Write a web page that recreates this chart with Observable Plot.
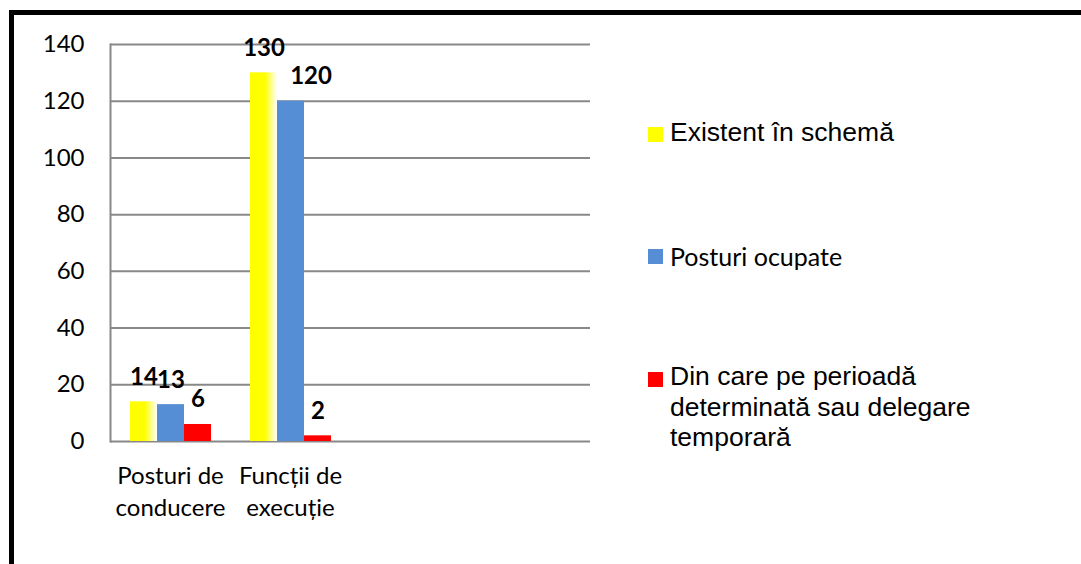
<!DOCTYPE html>
<html>
<head>
<meta charset="utf-8">
<script src="https://cdn.jsdelivr.net/npm/d3@7"></script>
<script src="https://cdn.jsdelivr.net/npm/@observablehq/plot@0.6"></script>
<style>
  html, body { margin: 0; padding: 0; background: #fff; overflow: hidden; width: 1081px; height: 564px; }
  #frame { position: absolute; left: 9px; top: 10px; width: 2000px; height: 2000px; border-left: 5px solid #000; border-top: 5px solid #000; box-sizing: border-box; }
  #chart { position: absolute; left: 0; top: 0; }
  .sw { position: absolute; width: 15px; height: 15px; }
  .lt { position: absolute; white-space: nowrap; color: #000; }
</style>
</head>
<body>
<div id="frame"></div>
<div id="chart"></div>
<div id="legend"></div>
<script>
const categories = ["Posturi de\nconducere", "Funcții de\nexecuție"];
const emptySlots = ["", " "];
const series = ["Existent în schemă", "Posturi ocupate", "Din care pe perioadă determinată sau delegare temporară"];
const existent = [14, 130];
const ocupate = [13, 120];
const determinata = [6, 2];
const yTicks = [0, 20, 40, 60, 80, 100, 120, 140];
const colors = ["url(#ygrad)", "#558ED5", "#FF0000"];
const swatchColors = ["#FFFF00", "#558ED5", "#FF0000"];

const seriesValues = [existent, ocupate, determinata];
const rows = categories.flatMap((c, i) => series.map((s, j) => ({cat: c, series: s, value: seriesValues[j][i]})));
const slots = [...categories, ...emptySlots];
const gridRows = slots.flatMap(c => yTicks.map(t => ({cat: c, t})));

const chart = Plot.plot({
  width: 600,
  height: 541,
  marginLeft: 108,
  marginRight: 9,
  marginTop: 44,
  marginBottom: 100,
  style: {background: "none", fontFamily: "Lato, sans-serif"},
  fx: {domain: slots, padding: 0, label: null},
  x: {domain: series, paddingInner: 0, paddingOuter: 0.71, axis: null},
  y: {domain: [0, 140], label: null},
  color: {domain: series, range: colors},
  marks: [
    Plot.ruleY(gridRows, {fx: "cat", y: "t", stroke: "#888", strokeWidth: 2}),
    Plot.axisY(yTicks, {tickSize: 0, tickPadding: 26, fontSize: 24, label: null, fill: "#000"}),
    Plot.axisFx({anchor: "bottom", tickSize: 0, tickPadding: 20, fontSize: 24, lineHeight: 1.33, label: null, fill: "#000", lineAnchor: "top"}),
    Plot.barY(rows, {fx: "cat", x: "series", y: "value", fill: "series"}),
    Plot.frame({anchor: "left", facetAnchor: "left", stroke: "#888", strokeWidth: 2}),
    Plot.text(rows.filter(d => !(d.cat === categories[1] && d.series === series[1])), {fx: "cat", x: "series", y: "value", text: "value", dy: -17, lineAnchor: "bottom", fontSize: 24, fontWeight: "bold", fill: "#000"}),
    Plot.text(rows.filter(d => d.cat === categories[1] && d.series === series[1]), {fx: "cat", x: "series", y: "value", text: "value", dy: -17, dx: 20, lineAnchor: "bottom", fontSize: 24, fontWeight: "bold", fill: "#000"})
  ]
});

const svgNS = "http://www.w3.org/2000/svg";
const defs = document.createElementNS(svgNS, "defs");
defs.innerHTML = '<linearGradient id="ygrad" x1="0" x2="1" y1="0" y2="0"><stop offset="0" stop-color="#FFFF00"/><stop offset="0.55" stop-color="#FFFF00"/><stop offset="1" stop-color="#FFFFFF"/></linearGradient>';
chart.insertBefore(defs, chart.firstChild);
document.getElementById("chart").appendChild(chart);

const legendItems = [
  {swTop: 127, textTop: 117, lines: ["Existent în schemă"], font: "'Liberation Sans', Arial, sans-serif", size: 26.5, lh: 30},
  {swTop: 249, textTop: 241, lines: ["Posturi ocupate"], font: "Lato, sans-serif", size: 25, lh: 30},
  {swTop: 372, textTop: 361, lines: ["Din care pe perioadă", "determinată sau delegare", "temporară"], font: "'Liberation Sans', Arial, sans-serif", size: 26.5, lh: 30.5}
];
const legend = document.getElementById("legend");
legendItems.forEach((it, i) => {
  const sw = document.createElement("div");
  sw.className = "sw";
  sw.style.left = "648px";
  sw.style.top = it.swTop + "px";
  sw.style.background = swatchColors[i];
  legend.appendChild(sw);
  const t = document.createElement("div");
  t.className = "lt";
  t.style.left = "670px";
  t.style.top = it.textTop + "px";
  t.style.fontFamily = it.font;
  t.style.fontSize = it.size + "px";
  t.style.lineHeight = it.lh + "px";
  t.innerHTML = it.lines.join("<br>");
  t.title = series[i];
  legend.appendChild(t);
});
</script>
</body>
</html>
